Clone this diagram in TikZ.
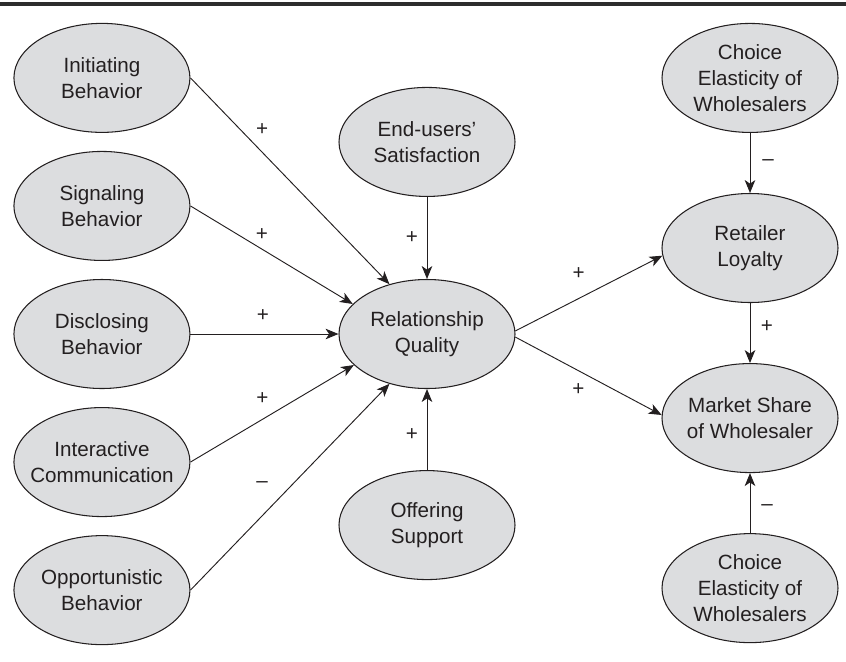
\documentclass[tikz,border=0pt]{standalone}
\usepackage{fontspec}
\setmainfont{Liberation Sans}
\usetikzlibrary{arrows.meta, positioning, shapes.geometric}
\definecolor{bubblegray}{RGB}{220,221,223}
\definecolor{inkgray}{RGB}{35,31,32}
\definecolor{rulegray}{RGB}{45,45,45}

\begin{document}
\begin{tikzpicture}[x=0.03cm, y=-0.03cm, >={Stealth[length=11pt, width=9pt, inset=3pt]}, font=\fontsize{17.6}{22.2}\selectfont,
    construct/.style={ellipse, draw=inkgray, line width=0.9pt, fill=bubblegray, text=inkgray, minimum width=5.28cm, minimum height=3.27cm, inner xsep=-10pt, inner ysep=0pt, align=center},
    sign/.style={text=inkgray, inner sep=0pt},
    link/.style={->, draw=inkgray, line width=0.8pt}]
        \useasboundingbox (0,0) rectangle (846,661);
        \draw[line width=3.4pt, draw=rulegray] (0,4) -- (846,4);
        % centre of the model
        \node[construct] (rq) at (427,334) {Relationship\\Quality};
        \node[construct, above=2.46cm of rq] (eus) {End-users’\\Satisfaction};
        \node[construct, below=2.43cm of rq] (off) {Offering\\Support};
        % left column
        \node[construct, left=4.44cm of rq] (dis) {Disclosing\\Behavior};
        \node[construct, above=0.54cm of dis] (sig) {Signaling\\Behavior};
        \node[construct, above=0.54cm of sig] (init) {Initiating\\Behavior};
        \node[construct, below=0.54cm of dis] (inter) {Interactive\\Communication};
        \node[construct, below=0.54cm of inter] (opp) {Opportunistic\\Behavior};
        % right column
        \node[construct] (ret) at (750,248) {Retailer\\Loyalty};
        \node[construct, above=1.8cm of ret] (cet) {Choice\\Elasticity of\\Wholesalers};
        \node[construct, below=1.8cm of ret] (mkt) {Market Share\\of Wholesaler};
        \node[construct, below=1.8cm of mkt] (ceb) {Choice\\Elasticity of\\Wholesalers};
        \draw[link] (init.east) -- (rq.127) node[sign, pos=0.36, shift={(0,-23)}] (s1) {+};
        \draw[link] (sig.east) -- (rq.158) node[sign, pos=0.44, shift={(0,-15)}] (s2) {+};
        \draw[link] (dis.east) -- (rq.west) node[sign, pos=0.49, shift={(0,-18)}] (s3) {+};
        \draw[link] (inter.east) -- (rq.203) node[sign, pos=0.44, shift={(0,-21)}] (s4) {+};
        \draw[link] (opp.east) -- (rq.233) node[sign, pos=0.36, shift={(0,-31)}] (s5) {–};
        \draw[link] (eus) -- (rq) node[sign, pos=0.49, shift={(-15,0)}] (s6) {+};
        \draw[link] (off) -- (rq) node[sign, pos=0.44, shift={(-15,0)}] (s7) {+};
        \draw[link] (rq.2) -- (ret.185) node[sign, pos=0.43, shift={(0,-25)}] (s8) {+};
        \draw[link] (rq.-2) -- (mkt.178) node[sign, pos=0.43, shift={(0,19)}] (s9) {+};
        \draw[link] (cet) -- (ret) node[sign, pos=0.5, shift={(18,0)}] (s10) {–};
        \draw[link] (ret) -- (mkt) node[sign, pos=0.4, shift={(17,0)}] (s11) {+};
        \draw[link] (ceb) -- (mkt) node[sign, pos=0.42, shift={(17,0)}] (s12) {–};
      \end{tikzpicture}
\end{document}
